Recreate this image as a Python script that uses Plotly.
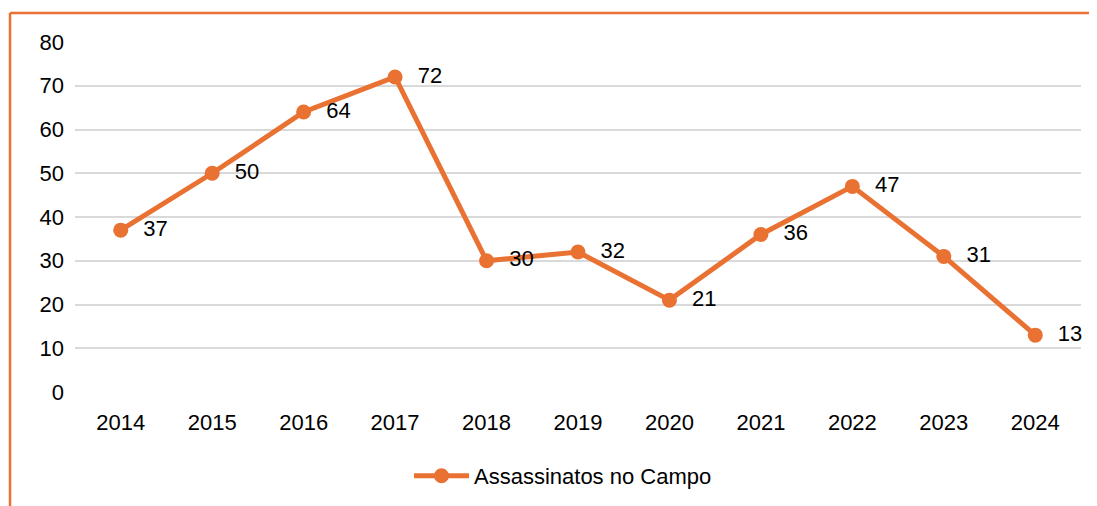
import plotly.graph_objects as go

years = ["2014", "2015", "2016", "2017", "2018", "2019",
         "2020", "2021", "2022", "2023", "2024"]
assassinatos = [37, 50, 64, 72, 30, 32, 21, 36, 47, 31, 13]
series_name = "Assassinatos no Campo"

ORANGE = "#E97132"
OFF = 8  # page body margin
W, H = 1097 - OFF, 506 - OFF
ml, mr, mt, mb = 75 - OFF, 16, 42 - OFF, 114

fig = go.Figure()
fig.add_trace(go.Scatter(
    x=years, y=assassinatos, name=series_name,
    mode="lines+markers+text",
    text=["  " + str(v) for v in assassinatos],
    textposition="middle right",
    textfont=dict(size=22, color="#000000"),
    line=dict(color=ORANGE, width=5),
    marker=dict(color=ORANGE, size=15),
    cliponaxis=False,
))

# orange frame (only top and left edges visible), positions in screen px
pw, ph = W - ml - mr, H - mt - mb
def px_x(p):
    return (p - OFF - ml) / pw
def px_y(p):
    return (H - mb - (p - OFF)) / ph
fig.add_shape(type="line", xref="paper", yref="paper",
              x0=px_x(10), x1=px_x(1110), y0=px_y(13), y1=px_y(13),
              line=dict(color=ORANGE, width=2.5))
fig.add_shape(type="line", xref="paper", yref="paper",
              x0=px_x(10), x1=px_x(10), y0=px_y(13), y1=px_y(520),
              line=dict(color=ORANGE, width=2.5))

fig.update_layout(
    width=W, height=H,
    margin=dict(l=ml, r=mr, t=mt, b=mb, autoexpand=False),
    paper_bgcolor="white", plot_bgcolor="white",
    font=dict(family="Liberation Sans, Arial, sans-serif", size=22, color="#000000"),
    showlegend=True,
    legend=dict(orientation="h", x=px_x(563), xanchor="center",
                y=px_y(476), yanchor="middle", font=dict(size=22),
                itemwidth=55),
    xaxis=dict(range=[-0.5, 10.5], showgrid=False, showline=False, ticks="",
               ticklabelstandoff=15, automargin=False),
    yaxis=dict(range=[0, 80], dtick=10, showgrid=True, gridcolor="#D9D9D9",
               gridwidth=1.5, zeroline=False, showline=False, ticks="",
               ticklabelstandoff=10, automargin=False),
)

fig.write_html("out.html")
